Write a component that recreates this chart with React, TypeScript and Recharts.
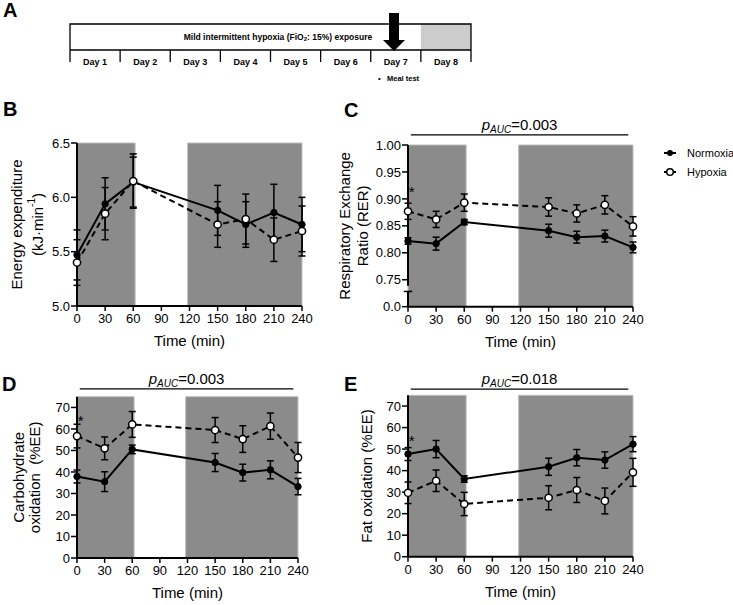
import React from 'react';
import {
  LineChart, Line, XAxis, YAxis, ErrorBar, ReferenceArea, ReferenceLine,
  ReferenceDot, Legend
} from 'recharts';

// sampling times of the meal test (min)
const times = [0, 30, 60, 150, 180, 210, 240];
const timeTicks = [0, 30, 60, 90, 120, 150, 180, 210, 240];
// shaded periods (min)
const band1 = [0, 62];
const band2 = [118, 240];

const days = ['Day 1', 'Day 2', 'Day 3', 'Day 4', 'Day 5', 'Day 6', 'Day 7', 'Day 8'];

// B – energy expenditure (kJ/min), mean and SEM
const eeNormoxia = [5.47, 5.94, 6.14, 5.88, 5.75, 5.86, 5.75];
const eeNormoxiaSem = [0.23, 0.24, 0.23, 0.23, 0.21, 0.26, 0.25];
const eeHypoxia = [5.40, 5.85, 6.15, 5.75, 5.80, 5.61, 5.69];
const eeHypoxiaSem = [0.21, 0.24, 0.25, 0.21, 0.23, 0.20, 0.23];

// C – respiratory exchange ratio
const rerNormoxia = [0.822, 0.817, 0.857, 0.841, 0.829, 0.831, 0.810];
const rerNormoxiaSem = [0.006, 0.012, 0.005, 0.012, 0.011, 0.011, 0.010];
const rerHypoxia = [0.877, 0.862, 0.893, 0.885, 0.873, 0.889, 0.849];
const rerHypoxiaSem = [0.015, 0.015, 0.016, 0.017, 0.016, 0.017, 0.018];

// D – carbohydrate oxidation (%EE)
const choNormoxia = [37.9, 35.5, 50.5, 44.4, 39.7, 41.0, 33.2];
const choNormoxiaSem = [3.0, 4.6, 2.0, 4.2, 3.9, 4.2, 3.8];
const choHypoxia = [56.7, 51.0, 62.1, 59.5, 55.3, 61.3, 46.7];
const choHypoxiaSem = [5.5, 5.3, 6.0, 5.8, 6.2, 6.1, 7.0];

// E – fat oxidation (%EE)
const fatNormoxia = [47.7, 50.0, 36.1, 41.8, 46.0, 44.9, 52.3];
const fatNormoxiaSem = [3.0, 4.0, 1.5, 4.0, 3.8, 3.8, 3.5];
const fatHypoxia = [29.7, 35.3, 24.5, 27.4, 31.0, 25.9, 39.2];
const fatHypoxiaSem = [5.0, 5.0, 5.4, 5.6, 5.8, 6.0, 6.5];

const BAND = '#8b8b8b';

function YTitle({ viewBox, lines, xs }: any) {
  const cy = viewBox.y + viewBox.height / 2;
  return (
    <g>
      {lines.map((ln: any, i: number) => (
        <text key={i} x={xs[i]} y={cy} transform={`rotate(-90 ${xs[i]} ${cy})`}
          textAnchor="middle" dominantBaseline="central" fontSize={15} fontWeight="normal"
          fill="#000" stroke="none">
          {ln}
        </text>
      ))}
    </g>
  );
}

function PLabel({ viewBox, text }: any) {
  return (
    <text x={viewBox.x + viewBox.width / 2} y={viewBox.y - 5} textAnchor="middle" fontSize={15}
      fontWeight="normal" fill="#000" stroke="none">
      <tspan fontStyle="italic">p</tspan>
      <tspan fontStyle="italic" fontSize={10} dy={3}>AUC</tspan>
      <tspan dy={-3}>={text}</tspan>
    </text>
  );
}

function LegendBox() {
  return (
    <svg width={73} height={40} style={{ display: 'block' }}>
      <line x1={4} x2={16} y1={10} y2={10} stroke="#000" strokeWidth={2} />
      <circle cx={10} cy={10} r={3} fill="#000" />
      <text x={27} y={10} dominantBaseline="central" fontSize={11} fill="#000">Normoxia</text>
      <line x1={4} x2={16} y1={29} y2={29} stroke="#000" strokeWidth={2} />
      <circle cx={10} cy={29} r={3.3} fill="#fff" stroke="#000" strokeWidth={1.5} />
      <text x={27} y={29} dominantBaseline="central" fontSize={11} fill="#000">Hypoxia</text>
    </svg>
  );
}

type PanelCfg = {
  left: number; top: number; width: number; height: number; yWidth: number;
  margin: { top: number; right: number; bottom: number; left: number };
  yDomain: [number, number]; yTicks: number[]; yFmt: (v: number) => string;
  normoxia: number[]; normoxiaSem: number[]; hypoxia: number[]; hypoxiaSem: number[];
  yTitle: React.ReactNode[]; yTitleX: number[];
  pAuc?: string; pAucY?: number; star?: [number, number];
  axisBreak?: number[]; legend?: boolean;
};

function MealPanel(c: PanelCfg) {
  const rows = times.map((t, i) => ({
    t, n: c.normoxia[i], nE: c.normoxiaSem[i], h: c.hypoxia[i], hE: c.hypoxiaSem[i],
  }));
  const axisLine: any = { stroke: '#000', strokeWidth: 2 };
  if (c.axisBreak) axisLine.strokeDasharray = c.axisBreak.join(' ');
  return (
    <div style={{ position: 'absolute', left: c.left, top: c.top }}>
      <LineChart width={c.width} height={c.height} data={rows} margin={c.margin}>
        <ReferenceArea x1={band1[0]} x2={band1[1]} fill={BAND} fillOpacity={1} stroke="#bdbdbd" strokeWidth={1} ifOverflow="visible" />
        <ReferenceArea x1={band2[0]} x2={band2[1]} fill={BAND} fillOpacity={1} stroke="#bdbdbd" strokeWidth={1} ifOverflow="visible" />
        <XAxis type="number" dataKey="t" domain={[0, 240]} ticks={timeTicks} height={40}
          axisLine={{ stroke: '#000', strokeWidth: 2 }} tickLine={{ stroke: '#000', strokeWidth: 1.5 }}
          tickSize={5} tickMargin={3} tick={{ fill: '#000', fontSize: 13 }} interval={0}
          label={{ value: 'Time (min)', position: 'insideBottom', offset: 0, fontSize: 15, fill: '#000' }} />
        <YAxis type="number" domain={c.yDomain} ticks={c.yTicks} width={c.yWidth} interval={0}
          tickFormatter={c.yFmt} axisLine={axisLine} tickLine={{ stroke: '#000', strokeWidth: 1.5 }}
          tickSize={6} tickMargin={1} tick={{ fill: '#000', fontSize: 13 }}
          label={<YTitle lines={c.yTitle} xs={c.yTitleX} />} />
        <Line dataKey="n" stroke="#000" strokeWidth={2} isAnimationActive={false}
          dot={{ r: 3.2, fill: '#000', stroke: '#000', strokeWidth: 1 }} activeDot={false}>
          <ErrorBar dataKey="nE" width={3.5} stroke="#000" strokeWidth={1.5} direction="y" isAnimationActive={false} />
        </Line>
        <Line dataKey="h" stroke="#000" strokeWidth={2} strokeDasharray="6 4" isAnimationActive={false}
          dot={{ r: 3.6, fill: '#fff', stroke: '#000', strokeWidth: 1.5, strokeDasharray: 'none' }} activeDot={false}>
          <ErrorBar dataKey="hE" width={3.5} stroke="#000" strokeWidth={1.5} direction="y" isAnimationActive={false} />
        </Line>
        {c.axisBreak && (
          <ReferenceLine segment={[{ x: -4.5, y: 0.7283 }, { x: 4.5, y: 0.7283 }]} stroke="#000"
            strokeWidth={1.5} ifOverflow="visible" />
        )}
        {c.pAuc && (
          <ReferenceLine segment={[{ x: 3, y: c.pAucY }, { x: 235, y: c.pAucY }]} stroke="#000"
            strokeWidth={1.2} ifOverflow="visible" label={<PLabel text={c.pAuc} />} />
        )}
        {c.star && (
          <ReferenceDot x={c.star[0]} y={c.star[1]} r={0} fill="none" stroke="none" ifOverflow="visible"
            label={{ value: '*', position: 'center', fontSize: 15, fill: '#000' }} />
        )}
        {c.legend && (
          <Legend layout="horizontal" verticalAlign="middle" align="center" content={() => <LegendBox />}
            wrapperStyle={{ left: 330, top: 43, width: 73, height: 40 }} />
        )}
      </LineChart>
    </div>
  );
}

function PanelA() {
  const x0 = 70, x1 = 471, yTop = 24, yMid = 50, yTick = 62;
  const step = (x1 - x0) / days.length;
  return (
    <svg width={733} height={95} style={{ position: 'absolute', left: 0, top: 0 }}>
      <rect x={x0 + 7 * step} y={yTop} width={step} height={yMid - yTop} fill="#cccccc" />
      <polyline points={`${x0},${yMid} ${x0},${yTop} ${x1},${yTop} ${x1},${yMid}`} fill="none" stroke="#000" strokeWidth={1.3} />
      <line x1={x0} x2={x1} y1={yMid} y2={yMid} stroke="#000" strokeWidth={1.3} />
      {days.map((d, i) => (
        <text key={d} x={x0 + (i + 0.5) * step} y={yTick} textAnchor="middle" dominantBaseline="central"
          fontSize={9} fontWeight="bold" fill="#000">{d}</text>
      ))}
      {Array.from({ length: days.length + 1 }, (_, i) => (
        <line key={i} x1={x0 + i * step} x2={x0 + i * step} y1={yMid} y2={yTick} stroke="#000" strokeWidth={1.3} />
      ))}
      <text x={278} y={37} textAnchor="middle" dominantBaseline="central" fontSize={8.5} fontWeight="bold" fill="#000">
        Mild intermittent hypoxia (FiO<tspan fontSize={6} dy={2}>2</tspan><tspan dy={-2}>: 15%) exposure</tspan>
      </text>
      <polygon points="389,13 399,13 399,40 405,40 394,51 383,40 389,40" fill="#000" />
      <text x={378} y={78} dominantBaseline="central" fontSize={7.5} fontWeight="bold" fill="#000">•</text>
      <text x={387} y={78} dominantBaseline="central" fontSize={7.5} fontWeight="bold" fill="#000">Meal test</text>
    </svg>
  );
}

function Letter({ ch, x, y }: { ch: string; x: number; y: number }) {
  return (
    <div style={{ position: 'absolute', left: x, top: y, fontSize: 20, fontWeight: 'bold', lineHeight: 1 }}>{ch}</div>
  );
}

export default function App() {
  return (
    <div style={{
      position: 'absolute', left: 0, top: 0, width: 733, height: 605, background: '#fff',
      overflow: 'hidden', fontFamily: '"Liberation Sans", Arial, sans-serif', color: '#000',
    }}>
      <PanelA />
      <MealPanel left={0} top={100} width={340} height={250} yWidth={77}
        margin={{ top: 43, right: 38, bottom: 4, left: 0 }}
        yDomain={[5, 6.5]} yTicks={[5, 5.5, 6, 6.5]} yFmt={(v) => v.toFixed(1)}
        normoxia={eeNormoxia} normoxiaSem={eeNormoxiaSem} hypoxia={eeHypoxia} hypoxiaSem={eeHypoxiaSem}
        yTitle={['Energy expenditure', <>(kJ·min<tspan dy={-6} fontSize={10}>-1</tspan><tspan dy={6}>)</tspan></>]}
        yTitleX={[16, 37]} />
      <MealPanel left={330} top={100} width={403} height={250} yWidth={78}
        margin={{ top: 45, right: 100, bottom: 3.3, left: 0 }}
        yDomain={[0.7, 1.0]} yTicks={[0.7, 0.75, 0.8, 0.85, 0.9, 0.95, 1.0]}
        yFmt={(v) => (v < 0.72 ? '0.0' : v.toFixed(2))}
        normoxia={rerNormoxia} normoxiaSem={rerNormoxiaSem} hypoxia={rerHypoxia} hypoxiaSem={rerHypoxiaSem}
        yTitle={['Respiratory Exchange', 'Ratio (RER)']} yTitleX={[15, 33]}
        pAuc="0.003" pAucY={1.0186} star={[4, 0.913]} axisBreak={[140.7, 6, 40]} legend />
      <MealPanel left={0} top={350} width={340} height={255} yWidth={77}
        margin={{ top: 46.7, right: 42, bottom: 7, left: 0 }}
        yDomain={[0, 75]} yTicks={[0, 10, 20, 30, 40, 50, 60, 70]} yFmt={(v) => String(v)}
        normoxia={choNormoxia} normoxiaSem={choNormoxiaSem} hypoxia={choHypoxia} hypoxiaSem={choHypoxiaSem}
        yTitle={['Carbohydrate', 'oxidation\u00a0 (%EE)']} yTitleX={[19, 35]}
        pAuc="0.003" pAucY={78.6} star={[4, 63.7]} />
      <MealPanel left={330} top={350} width={403} height={255} yWidth={78}
        margin={{ top: 45.3, right: 100, bottom: 8.3, left: 0 }}
        yDomain={[0, 75]} yTicks={[0, 10, 20, 30, 40, 50, 60, 70]} yFmt={(v) => String(v)}
        normoxia={fatNormoxia} normoxiaSem={fatNormoxiaSem} hypoxia={fatHypoxia} hypoxiaSem={fatHypoxiaSem}
        yTitle={['Fat oxidation (%EE)']} yTitleX={[36]}
        pAuc="0.018" pAucY={77.9} star={[4, 53.7]} />
      <Letter ch="A" x={3} y={0} />
      <Letter ch="B" x={3} y={99} />
      <Letter ch="C" x={344} y={100} />
      <Letter ch="D" x={2} y={374} />
      <Letter ch="E" x={344} y={374} />
    </div>
  );
}
